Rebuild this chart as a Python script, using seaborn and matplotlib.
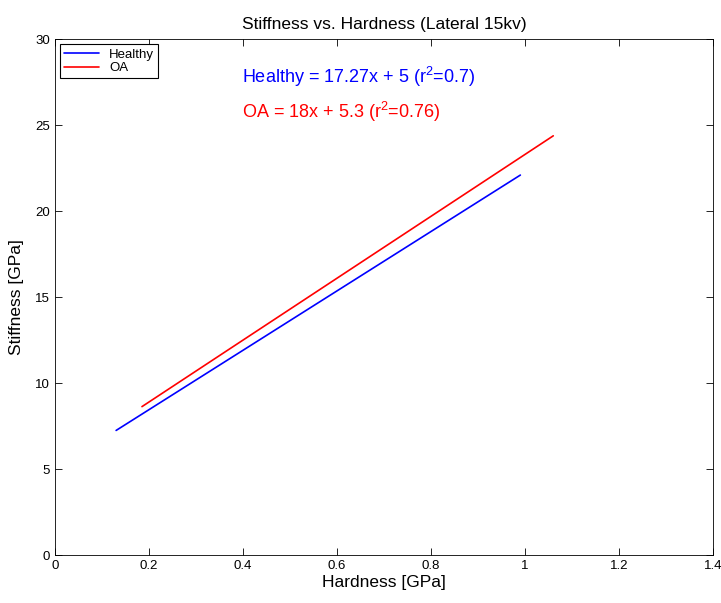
import matplotlib
matplotlib.use("Agg")
import matplotlib.pyplot as plt
import numpy as np
import pandas as pd
import seaborn as sns

# Fitted regression lines: slope, intercept, r^2 and the hardness range covered
groups = ["Healthy", "OA"]
slopes = [17.27, 18.0]
intercepts = [5.0, 5.3]
r_squared = ["0.7", "0.76"]
x_start = [0.13, 0.185]
x_end = [0.99, 1.06]
colors = ["#0000ff", "#ff0000"]
eq_labels = ["Healthy = 17.27x + 5 (r$^2$=0.7)", "OA = 18x + 5.3 (r$^2$=0.76)"]

xticks = [0, 0.2, 0.4, 0.6, 0.8, 1, 1.2, 1.4]
xtick_labels = ["0", "0.2", "0.4", "0.6", "0.8", "1", "1.2", "1.4"]
yticks = [0, 5, 10, 15, 20, 25, 30]

rows = []
for g, m, b, x0, x1 in zip(groups, slopes, intercepts, x_start, x_end):
    for x in (x0, x1):
        rows.append({"group": g, "Hardness": x, "Stiffness": m * x + b})
df = pd.DataFrame(rows)

sns.set_style("ticks")
plt.rcParams["font.family"] = ["Liberation Sans", "DejaVu Sans"]
plt.rcParams["mathtext.fontset"] = "custom"
plt.rcParams["mathtext.rm"] = "Liberation Sans"
plt.rcParams["mathtext.it"] = "Liberation Sans"
plt.rcParams["text.color"] = "black"
plt.rcParams["axes.labelcolor"] = "black"

fig = plt.figure(figsize=(7.21, 6.03), dpi=100)
ax = fig.add_axes([0.0763, 0.0796, 0.9127, 0.8554])

sns.lineplot(data=df, x="Hardness", y="Stiffness", hue="group",
             palette=dict(zip(groups, colors)), linewidth=1.2, ax=ax,
             estimator=None, sort=False)

ax.set_xlim(0, 1.4)
ax.set_ylim(0, 30)
ax.set_xticks(xticks)
ax.set_xticklabels(xtick_labels)
ax.set_yticks(yticks)
ax.tick_params(direction="in", top=True, right=True, labelsize=9.5,
               length=5, width=0.6, colors="black")
for s in ax.spines.values():
    s.set_linewidth(0.6)
    s.set_color("black")

ax.set_title("Stiffness vs. Hardness (Lateral 15kv)", fontsize=12.5, pad=7,
             color="black")
ax.set_xlabel("Hardness [GPa]", fontsize=12.5, labelpad=2, color="black")
ax.set_ylabel("Stiffness [GPa]", fontsize=12.5, labelpad=8, color="black")

ax.text(0.398, 27.8, eq_labels[0], color=colors[0], fontsize=13, va="center")
ax.text(0.398, 25.75, eq_labels[1], color=colors[1], fontsize=13, va="center")

leg = ax.legend(loc="upper left", fontsize=9.5, frameon=True, fancybox=False,
                edgecolor="black", framealpha=1, borderpad=0.3,
                handlelength=2.6, labelspacing=0.1, borderaxespad=0.4,
                title=None)
leg.get_frame().set_linewidth(0.8)
for t in leg.get_texts():
    t.set_color("black")

fig.savefig("out.png", dpi=100)
